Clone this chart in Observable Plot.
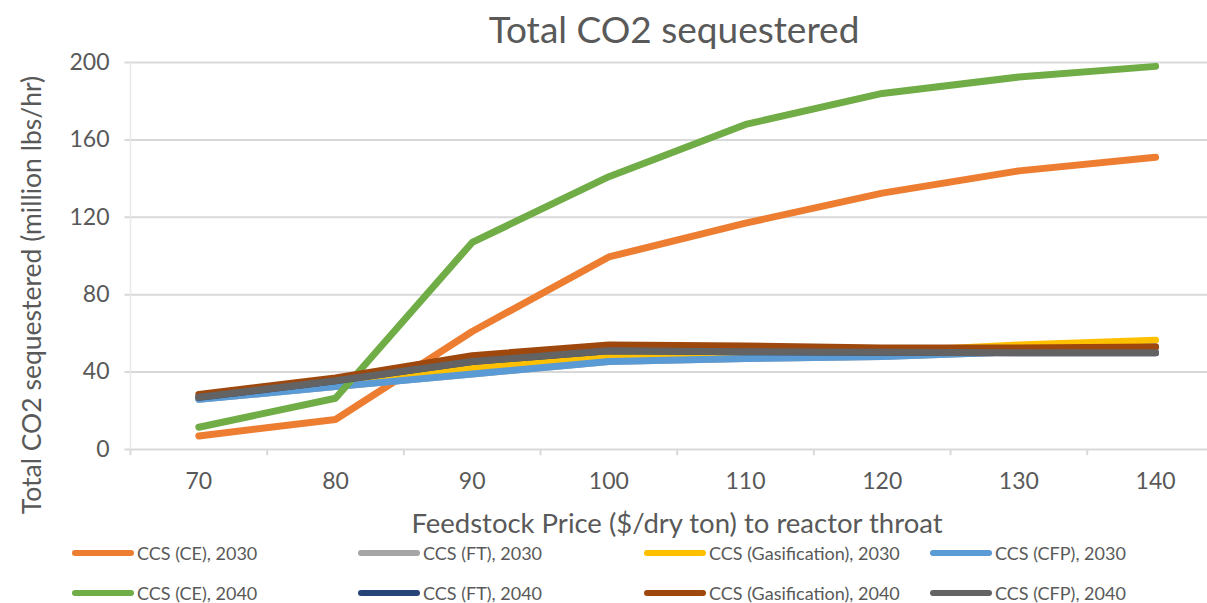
<!DOCTYPE html>
<html><head><meta charset="utf-8">
<script src="https://cdn.jsdelivr.net/npm/d3@7"></script>
<script src="https://cdn.jsdelivr.net/npm/@observablehq/plot@0.6"></script>
<style>
body{margin:0;background:#fff;font-family:Lato,"Open Sans",sans-serif;}
#wrap{position:relative;width:1207px;height:603px;overflow:hidden;background:#fff;}
#chart{position:absolute;left:0;top:0;}
.t{position:absolute;color:#595959;white-space:nowrap;line-height:1;}
#title{left:674px;top:28px;transform:translate(-50%,-50%);font-size:37px;}
#ylab{left:31px;top:295px;transform:translate(-50%,-50%) rotate(-90deg);font-size:26.5px;}
#xlab{left:677px;top:523px;transform:translate(-50%,-50%);font-size:27.5px;}
.li{position:absolute;height:20px;display:flex;align-items:center;transform:translateY(-50%);}
.sw{width:62px;height:6px;border-radius:3px;margin-right:3px;}
.lt{font-size:18px;color:#595959;white-space:nowrap;}
</style>
</head><body>
<div id="wrap">
  <div id="chart"></div>
  <div class="t" id="title">Total CO2 sequestered</div>
  <div class="t" id="ylab">Total CO2 sequestered (million lbs/hr)</div>
  <div class="t" id="xlab">Feedstock Price ($/dry ton) to reactor throat</div>
  <div id="legend"></div>
</div>
<script>
// ---- data ----
const prices = [70, 80, 90, 100, 110, 120, 130, 140];
const yTicks = [0, 40, 80, 120, 160, 200];
const seriesNames = [
  "CCS (CE), 2030", "CCS (FT), 2030", "CCS (Gasification), 2030", "CCS (CFP), 2030",
  "CCS (CE), 2040", "CCS (FT), 2040", "CCS (Gasification), 2040", "CCS (CFP), 2040"
];
const seriesColors = ["#ED7D31", "#A5A5A5", "#FFC000", "#5B9BD5", "#70AD47", "#264478", "#9E480E", "#636363"];
const ce2030   = [7, 15.5, 61, 99.5, 117, 132.5, 144, 151];
const ft2030   = [26, 32.5, 39, 45.5, 47, 48, 50.5, 53];
const gas2030  = [26.5, 33, 42, 48, 49, 50.5, 54, 56.5];
const cfp2030  = [26, 32.5, 39, 45.5, 47, 48, 50.5, 53];
const ce2040   = [11.5, 26.5, 107, 141, 168, 184, 192.5, 198];
const ft2040   = [27, 35.5, 45.5, 51, 50.5, 50.3, 50, 50];
const gas2040  = [28.5, 37, 48.5, 54, 53.5, 52.5, 52.5, 53];
const cfp2040  = [27, 35.5, 45.5, 51, 50.5, 50.3, 50, 50];
const seriesValues = [ce2030, ft2030, gas2030, cfp2030, ce2040, ft2040, gas2040, cfp2040];

const rows = [];
seriesNames.forEach((s, i) => prices.forEach((p, j) => rows.push({series: s, price: p, value: seriesValues[i][j]})));

const grid = "#d9d9d9";
const chart = Plot.plot({
  width: 1207, height: 603,
  marginLeft: 130, marginRight: 0, marginTop: 62, marginBottom: 154,
  x: {domain: [65, 143.8]},
  y: {domain: [0, 200]},
  color: {domain: seriesNames, range: seriesColors},
  style: {fontFamily: "Lato, sans-serif", color: "#595959", background: "transparent"},
  marks: [
    Plot.ruleY(yTicks, {x1: 64.6, x2: 143.8, stroke: grid, strokeWidth: 2}),
    Plot.ruleX([prices[0] - 5], {y1: 0, y2: 200, stroke: "#e8e8e8", strokeWidth: 1.5}),
    Plot.ruleX(prices.map(p => p - 5).concat([prices[prices.length - 1] + 5]), {y1: 0, y2: -3.2, stroke: grid, strokeWidth: 2}),
    Plot.axisY(yTicks, {tickSize: 0, tickPadding: 21, fontSize: 23, label: null}),
    Plot.axisX(prices, {tickSize: 0, tickPadding: 23, fontSize: 23, label: null}),
    Plot.line(rows, {x: "price", y: "value", z: "series", stroke: "series", strokeWidth: 7,
      strokeLinecap: "round", strokeLinejoin: "round"})
  ]
});
document.getElementById("chart").appendChild(chart);

// legend
const legend = document.getElementById("legend");
const colX = [72, 358, 644, 930];
const rowY = [553, 593];
seriesNames.forEach((s, i) => {
  const d = document.createElement("div");
  d.className = "li";
  d.style.left = colX[i % 4] + "px";
  d.style.top = rowY[Math.floor(i / 4)] + "px";
  d.innerHTML = `<div class="sw" style="background:${seriesColors[i]}"></div><span class="lt">${s}</span>`;
  legend.appendChild(d);
});
</script>
</body></html>
